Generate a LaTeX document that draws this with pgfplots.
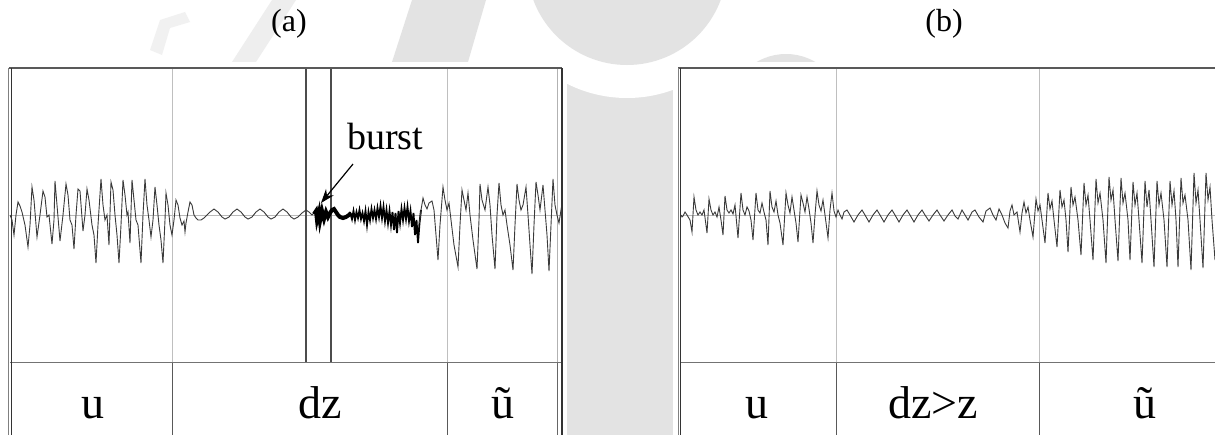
\documentclass[border=0pt]{standalone}
\usepackage{pgfplots}
\pgfplotsset{compat=1.18}
\usetikzlibrary{arrows.meta}
\usepackage{fontspec}
\setmainfont{Liberation Serif}
\definecolor{wm}{HTML}{E3E3E3}
\definecolor{trace}{HTML}{3A3A3A}
\begin{document}
\begin{tikzpicture}
\path[use as bounding box, fill=white] (0,0) rectangle (607.5pt,217.5pt);
% watermark and page (pixel coordinates, y downward)
\begin{scope}[x=0.5pt,y=-0.5pt,yshift=217.5pt]
\fill[wm] (567,62) rectangle (673,435);
\fill[white] (627,-35) circle (133);
\fill[wm] (627,-35) circle (100);
\fill[wm] (392,62) -- (468,62) -- (486,0) -- (412,0) -- cycle;
\fill[wm!60] (232,62) -- (256,62) -- (296,0) -- (272,0) -- cycle;
\fill[wm!50] (150,50) -- (160,20) -- (185,12) -- (190,22) -- (170,28) -- (162,55) -- cycle;
\fill[wm] (786,112) circle (58);
\fill[white] (786,112) circle (44);
\fill[white] (0,62) rectangle (567,435);
\fill[white] (673,62) rectangle (1215,435);
\node[anchor=base, font=\fontsize{16}{16}\selectfont] at (289,32) {(a)};
\node[anchor=base, font=\fontsize{16}{16}\selectfont] at (944,32) {(b)};
\end{scope}
% ---------------- panel (a) ----------------
\begin{axis}[at={(4pt,0pt)}, anchor=south west, scale only axis,
  width=278pt, height=184pt, xmin=8, xmax=564, ymin=-220, ymax=148,
  hide axis, clip=false]
\draw[gray!55, line width=0.4pt] (10,0) -- (562,0);
\draw[gray!50, line width=0.35pt] (172,147) -- (172,-147);
\draw[gray!50, line width=0.35pt] (447,147) -- (447,-147);
\draw[gray!60, line width=0.4pt] (557,147) -- (557,-147);
\draw[black!65, line width=0.5pt] (172,-147) -- (172,-220);
\draw[black!65, line width=0.5pt] (447,-147) -- (447,-220);
\draw[black!60, line width=0.5pt] (557,-147) -- (557,-220);
\draw[black!70, line width=0.6pt] (306,147) -- (306,-147);
\draw[black!70, line width=0.6pt] (331,147) -- (331,-147);
\draw[black!55, line width=0.5pt] (10,-147) -- (562,-147);
\draw[black!65, line width=0.6pt] (9,147) -- (562,147);
\draw[black!50, line width=0.5pt] (9,147) -- (9,-220);
\draw[black!80, line width=0.5pt] (11.5,147) -- (11.5,-220);
\draw[black!80, line width=0.6pt] (562,147) -- (562,-220);
\addplot[trace, line width=0.45pt] coordinates {
(10,0)(12,-5)(14,-20)(16,0)(18,13)(20,9)(22,3)(25,-10)(28,-32)(30,-10)(32,28)(34,15)(37,-22)(40,0)(43,24)(45,18)(47,-2)(49,0)(52,-29)(54,-5)(55,34)(57,10)(60,-26)(63,0)(66,31)(68,20)(70,-5)(72,-10)(74,-34)(76,0)(78,26)(80,24)(83,-16)(85,0)(87,26)(89,15)(92,-10)(94,-20)(96,-48)(98,-10)(101,36)(103,10)(105,-5)(107,0)(109,-30)(111,33)(113,25)(115,0)(117,-20)(119,-48)(121,-10)(123,35)(125,20)(127,0)(128,3)(130,-28)(132,35)(134,15)(136,-5)(138,-10)(141,-48)(143,0)(145,36)(147,10)(149,-5)(151,-22)(153,-5)(155,28)(157,10)(159,-10)(161,-25)(163,-48)(165,-5)(166,22)(168,10)(170,-10)(172,-20)(174,-5)(176,15)(178,10)(180,-3)(182,-10)(184,-6)(185,-17)(186,-8)(188,3)(190,13)(192,10)(194,0)(196,-3)(198,-5)(201,-5)(204,-3)(210,3)(214,6)(218,3)(222,-2)(225,-4)(229,-2)(233,3)(237,6)(241,3)(245,-2)(248,-4)(252,-2)(256,3)(260,6)(264,3)(268,-2)(271,-4)(275,-2)(279,3)(283,6)(287,3)(291,-2)(294,-4)(298,-2)(302,2)(306,5)(309,3)(312,0)(314,2)
};
\addplot[black, line width=2pt] coordinates {
(314,1)(316,4)(317,-5)(319,3)(320,-6)(322,4)(324,-4)(326,3)(328,-2)(330,2)(332,5)(334,6)(336,3)(338,0)(340,-2)(343,-3)(346,-2)(349,0)(351,2)
};
\addplot[black, line width=0.9pt] coordinates {
(350,3)(352,-4)(353.5,4)(355,-5)(356.5,3)(358,-3)(359.5,5)(361,-4)(362.5,2)(364,-6)(365.5,4)(367,-10)(368.5,3)(370,-5)(371.5,6)(373,-3)(374.5,5)(376,-4)(377.5,7)(379,-2)(380.5,9)(382,-3)(383.5,8)(385,-6)(386.5,5)(388,-8)(389.5,4)(391,-10)(392.5,3)(394,-15)(395.5,2)(397,-18)(398.5,4)(400,-8)(401.5,6)(403,-5)(404.5,7)(406,-4)(407.5,8)(409,-6)(410.5,4)(412,-12)(413.5,2)(415,-20)(416.5,-5)(418,-28)(419.5,-8)(421,5)
};
\addplot[trace, line width=0.45pt] coordinates {
(419.5,-8)(421,5)(423,17)(425,10)(427,6)(429,12)(432,14)(434,5)(436,-20)(438,-45)(440,-10)(443,28)(445,15)(447,5)(449,12)(451,-5)(454,-30)(458,-52)(460,-10)(462,25)(464,15)(466,5)(468,22)(470,0)(473,-25)(477,-54)(479,-5)(480,31)(482,15)(485,5)(488,28)(490,10)(492,-20)(495,-54)(497,0)(499,32)(501,10)(503,0)(505,5)(507,-10)(510,-30)(513,-55)(515,-10)(517,31)(519,15)(521,5)(523,10)(526,28)(528,0)(530,-30)(532,-59)(534,-10)(536,33)(538,20)(540,5)(543,30)(545,5)(547,-20)(549,-56)(551,-10)(553,36)(555,10)(557,0)(559,-8)(561,5)(562,0)
};
\node[anchor=base, font=\fontsize{19}{19}\selectfont] at (385,66) {burst};
\draw[-{Stealth[length=7pt,width=5pt]}, line width=0.6pt] (353,51) -- (321,12);
\node[anchor=base, font=\fontsize{23}{23}\selectfont] at (93,-203) {u};
\node[anchor=base, font=\fontsize{23}{23}\selectfont] at (320,-203) {dz};
\node[anchor=base, font=\fontsize{23}{23}\selectfont] at (503,-203) {ũ};
\end{axis}
% ---------------- panel (b) ----------------
\begin{axis}[at={(338pt,0pt)}, anchor=south west, scale only axis,
  width=269.5pt, height=184pt, xmin=676, xmax=1215, ymin=-220, ymax=148,
  hide axis, clip=false]
\draw[gray!55, line width=0.4pt] (680,0) -- (1215,0);
\draw[gray!50, line width=0.35pt] (836,147) -- (836,-147);
\draw[gray!50, line width=0.35pt] (1039,147) -- (1039,-147);
\draw[black!65, line width=0.5pt] (836,-147) -- (836,-220);
\draw[black!65, line width=0.5pt] (1039,-147) -- (1039,-220);
\draw[black!55, line width=0.5pt] (680,-147) -- (1215,-147);
\draw[black!65, line width=0.6pt] (678,147) -- (1215,147);
\draw[black!50, line width=0.5pt] (678,147) -- (678,-220);
\draw[black!80, line width=0.5pt] (680.5,147) -- (680.5,-220);
\addplot[trace, line width=0.45pt] coordinates {
(681,0)(682,-2)(683,-1)(685,3)(687,0)(690,-5)(692,-17)(694,18)(696,5)(698,0)(700,3)(702,0)(704,5)(707,-18)(709,16)(711,5)(713,0)(715,3)(717,-2)(719,8)(721,-5)(723,-20)(725,19)(727,5)(729,2)(731,5)(733,1)(735,10)(738,-23)(741,22)(743,5)(745,0)(747,8)(749,4)(751,-5)(753,-25)(756,22)(758,5)(760,2)(762,12)(764,3)(766,-5)(768,-30)(770,24)(772,8)(774,3)(776,14)(778,0)(780,-8)(783,-30)(786,22)(788,10)(790,2)(792,18)(794,5)(796,-8)(798,-27)(801,20)(803,12)(805,3)(807,18)(809,6)(811,-8)(813,-28)(815,0)(817,24)(819,10)(821,4)(823,15)(825,0)(828,-23)(830,5)(832,22)(834,4)(836,-2)(838,5)(840,0)(842,-4)(844,3)(847,5)(850,0)(854,-7)(858,0)(862,5)(865,0)(869,-7)(873,0)(877,5)(880,0)(884,-7)(888,0)(892,5)(895,0)(899,-7)(903,0)(907,5)(910,0)(914,-7)(918,0)(922,5)(925,0)(929,-6)(933,0)(937,5)(940,0)(944,-6)(948,0)(952,5)(955,-1)(958,-4)(962,5)(965,0)(968,-5)(972,3)(975,5)(979,-2)(983,-7)(986,4)(990,7)(993,0)(996,-5)(999,6)(1002,0)(1005,-8)(1008,-13)(1010,4)(1012,10)(1014,0)(1017,3)(1020,-17)(1022,2)(1024,13)(1026,2)(1028,8)(1030,-5)(1033,-22)(1036,16)(1038,4)(1040,10)(1042,-5)
(1045,-28)(1048,22)(1050,6)(1052,14)(1054,-5)
(1057,-32)(1060,25)(1062,8)(1064,15)(1066,-5)
(1068,-37)(1071,28)(1073,10)(1075,18)(1078,-5)
(1081,-40)(1084,32)(1086,10)(1088,20)(1090,-5)
(1093,-45)(1096,36)(1098,12)(1100,22)(1103,-5)
(1106,-48)(1109,38)(1111,15)(1113,25)(1115,-5)
(1118,-46)(1121,37)(1123,12)(1125,22)(1128,-5)
(1130,-45)(1133,33)(1135,10)(1137,22)(1139,-5)
(1142,-48)(1145,34)(1147,8)(1149,25)(1151,-5)
(1154,-52)(1157,34)(1159,10)(1161,22)(1164,-5)
(1167,-52)(1170,34)(1172,10)(1174,24)(1176,-5)
(1178,-52)(1181,37)(1183,12)(1185,20)(1188,-5)
(1191,-55)(1194,42)(1196,12)(1198,25)(1200,-5)
(1203,-53)(1206,42)(1208,15)(1210,28)(1212,-5)
(1215,-45)
};
\node[anchor=base, font=\fontsize{23}{23}\selectfont] at (757,-203) {u};
\node[anchor=base, font=\fontsize{23}{23}\selectfont] at (933,-203) {dz>z};
\node[anchor=base, font=\fontsize{23}{23}\selectfont] at (1145,-203) {ũ};
\end{axis}
\end{tikzpicture}
\end{document}
